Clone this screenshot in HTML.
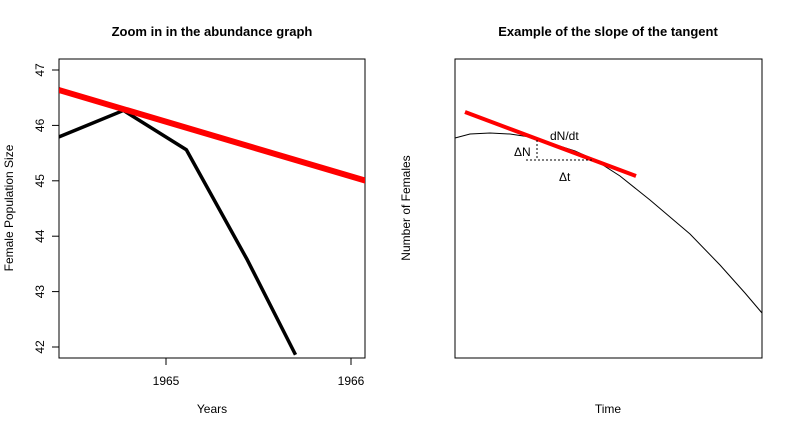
<!DOCTYPE html>
<html><head><meta charset="utf-8"><style>
body{margin:0;background:#fff;}
svg{display:block;font-family:"Liberation Sans",Arial,sans-serif;}
</style></head><body>
<svg width="792" height="432" viewBox="0 0 792 432">
<g id="left">
<text x="212" y="36" text-anchor="middle" font-size="13" font-weight="bold">Zoom in in the abundance graph</text>
<rect x="59" y="59" width="306" height="299" fill="none" stroke="#000"/>
<g id="lticks"></g>
<text x="212" y="413" text-anchor="middle" font-size="12">Years</text>
<text transform="translate(13,208) rotate(-90)" text-anchor="middle" font-size="12">Female Population Size</text>
<polyline id="blk" fill="none" stroke="#000" stroke-width="3.5" stroke-linejoin="round"/>
<polyline id="red" fill="none" stroke="#ff0000" stroke-width="6"/>
</g>
<g>
<text x="608" y="36" text-anchor="middle" font-size="13" font-weight="bold">Example of the slope of the tangent</text>
<rect x="455" y="59" width="307" height="299" fill="none" stroke="#000"/>
<text x="608" y="413" text-anchor="middle" font-size="12">Time</text>
<text transform="translate(410,208) rotate(-90)" text-anchor="middle" font-size="12">Number of Females</text>
<polyline points="455,138 470,134 490,133 510,134 530,137 550,143 575,151 595,160 620,176 650,200 690,234 720,265 745,293 762,313" fill="none" stroke="#000" stroke-width="1"/>
<line x1="465" y1="112" x2="636" y2="176" stroke="#ff0000" stroke-width="4"/>
<line x1="537" y1="140" x2="537" y2="160" stroke="#000" stroke-dasharray="2,2"/>
<line x1="526" y1="160" x2="592" y2="160" stroke="#000" stroke-dasharray="2,2"/>
<text x="550" y="140" font-size="12">dN/dt</text>
<text x="514" y="156" font-size="12">ΔN</text>
<text x="559" y="181" font-size="12">Δt</text>
</g>
</svg>
<script>
const yearsX=[1964.42,1964.77,1965.11,1965.44,1965.70];
const abundance=[45.79,46.27,45.56,43.57,41.86];
const tangentX=[1964.42,1966.08];
const tangentY=[46.64,45.0];
const xTicks=[1965,1966];
const yTicks=[42,43,44,45,46,47];
const X0=59,X1=365,Y0=59,Y1=358;
function sx(v){return 166+(v-1965)*185;}
function sy(v){return 347-(v-42)*55.4;}
const ns="http://www.w3.org/2000/svg";
document.getElementById('blk').setAttribute('points',yearsX.map((x,i)=>sx(x)+','+sy(abundance[i])).join(' '));
document.getElementById('red').setAttribute('points',tangentX.map((x,i)=>sx(x)+','+sy(tangentY[i])).join(' '));
const g=document.getElementById('lticks');
xTicks.forEach(t=>{
 const l=document.createElementNS(ns,'line');l.setAttribute('x1',sx(t));l.setAttribute('x2',sx(t));l.setAttribute('y1',Y1);l.setAttribute('y2',Y1+7);l.setAttribute('stroke','#000');
 
 
 g.appendChild(l);
 const tx=document.createElementNS(ns,'text');tx.setAttribute('x',sx(t));tx.setAttribute('y',385);tx.setAttribute('text-anchor','middle');tx.setAttribute('font-size','12');tx.textContent=t;
 
 
 g.appendChild(tx);
});
yTicks.forEach(t=>{
 const l=document.createElementNS(ns,'line');l.setAttribute('x1',X0-7);l.setAttribute('x2',X0);l.setAttribute('y1',sy(t));l.setAttribute('y2',sy(t));l.setAttribute('stroke','#000');
 
 
 g.appendChild(l);
 const tx=document.createElementNS(ns,'text');tx.setAttribute('transform','translate(44,'+sy(t)+') rotate(-90)');tx.setAttribute('text-anchor','middle');tx.setAttribute('font-size','12');tx.textContent=t;
 
 
 g.appendChild(tx);
});
const cp=document.createElementNS(ns,'clipPath');cp.setAttribute('id','lc');
const cr=document.createElementNS(ns,'rect');cr.setAttribute('x',X0);cr.setAttribute('y',Y0);cr.setAttribute('width',X1-X0);cr.setAttribute('height',Y1-Y0);
cp.appendChild(cr);document.querySelector('svg').appendChild(cp);
document.getElementById('blk').setAttribute('clip-path','url(#lc)');
document.getElementById('red').setAttribute('clip-path','url(#lc)');
</script>
</body></html>
